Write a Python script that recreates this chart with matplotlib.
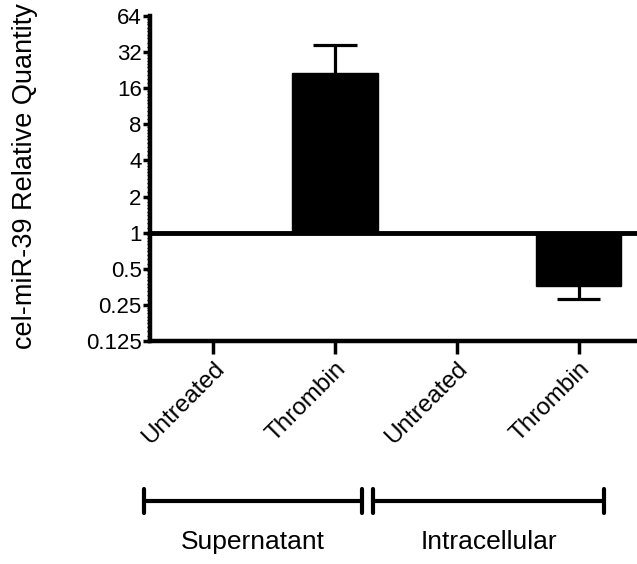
import matplotlib
matplotlib.use("Agg")
import matplotlib.pyplot as plt
import matplotlib.ticker as mticker
from matplotlib.transforms import blended_transform_factory
import numpy as np

plt.rcParams['font.family'] = ['Liberation Sans', 'DejaVu Sans']

# data
categories = ['Untreated', 'Thrombin', 'Untreated', 'Thrombin']
values = [1.0, 21.5, 1.0, 0.36]
err_up = [0.0, 15.0, 0.0, 0.0]
err_down = [0.0, 0.0, 0.0, 0.08]
y_ticks = [0.125, 0.25, 0.5, 1, 2, 4, 8, 16, 32, 64]
y_ticklabels = ['0.125', '0.25', '0.5', '1', '2', '4', '8', '16', '32', '64']
groups = ['Supernatant', 'Intracellular']
group_spans = [(-0.566, 1.22), (1.31, 3.21)]

fig = plt.figure(figsize=(6.37, 5.64), dpi=100)
ax = fig.add_axes([0.2355, 0.3954, 0.7645, 0.5762])

x = np.arange(len(categories))
heights = [v - 1 for v in values]
ax.bar(x, heights, bottom=1, width=0.70, color='black', edgecolor='black',
       linewidth=1, zorder=2)

# error bars, only on the side away from the baseline
cap_half = 0.18
for i in range(len(x)):
    if err_up[i] > 0:
        top = values[i] + err_up[i]
        ax.vlines(x[i], values[i], top, color='black', lw=2.3, zorder=3)
        ax.hlines(top, x[i] - cap_half, x[i] + cap_half, color='black', lw=2.3, zorder=3)
    if err_down[i] > 0:
        bot = values[i] - err_down[i]
        ax.vlines(x[i], bot, values[i], color='black', lw=2.3, zorder=3)
        ax.hlines(bot, x[i] - cap_half, x[i] + cap_half, color='black', lw=2.3, zorder=3)

ax.axhline(1, color='black', lw=3.5, zorder=4)

ax.set_yscale('log', base=2)
ax.set_ylim(0.125, 64)
ax.set_xlim(-0.52, 3.48)
ax.set_yticks(y_ticks)
ax.set_yticklabels(y_ticklabels, fontsize=16)
ax.yaxis.set_minor_locator(mticker.LogLocator(base=2, subs=np.linspace(1, 2, 11)[1:-1], numticks=80))
ax.yaxis.set_minor_formatter(mticker.NullFormatter())

ax.set_xticks(x)
ax.set_xticklabels(categories, rotation=45, ha='right', rotation_mode='anchor',
                   fontsize=17.5)

for s in ['top', 'right']:
    ax.spines[s].set_visible(False)
for s in ['left', 'bottom']:
    ax.spines[s].set_linewidth(3.2)
ax.tick_params(axis='y', which='major', length=5, width=2.5, pad=1)
ax.tick_params(axis='y', which='minor', length=2.5, width=1)
ax.tick_params(axis='x', which='major', length=9, width=2.5, pad=3)

fig.text(0.039, 0.688, 'cel-miR-39 Relative Quantity', rotation=90,
         ha='center', va='center', fontsize=19.5)

# group brackets below the axis
tr = blended_transform_factory(ax.transData, fig.transFigure)
y_line = 0.1117
cap = 0.021
for name, (x0, x1) in zip(groups, group_spans):
    ax.plot([x0, x1], [y_line, y_line], color='black', lw=3, transform=tr,
            clip_on=False, solid_capstyle='butt')
    for xe in (x0, x1):
        ax.plot([xe, xe], [y_line - cap, y_line + cap], color='black', lw=3,
                transform=tr, clip_on=False, solid_capstyle='round')
    ax.text((x0 + x1) / 2, 0.039, name, transform=tr, ha='center',
            va='center', fontsize=19)

fig.savefig('out.png', dpi=100)
